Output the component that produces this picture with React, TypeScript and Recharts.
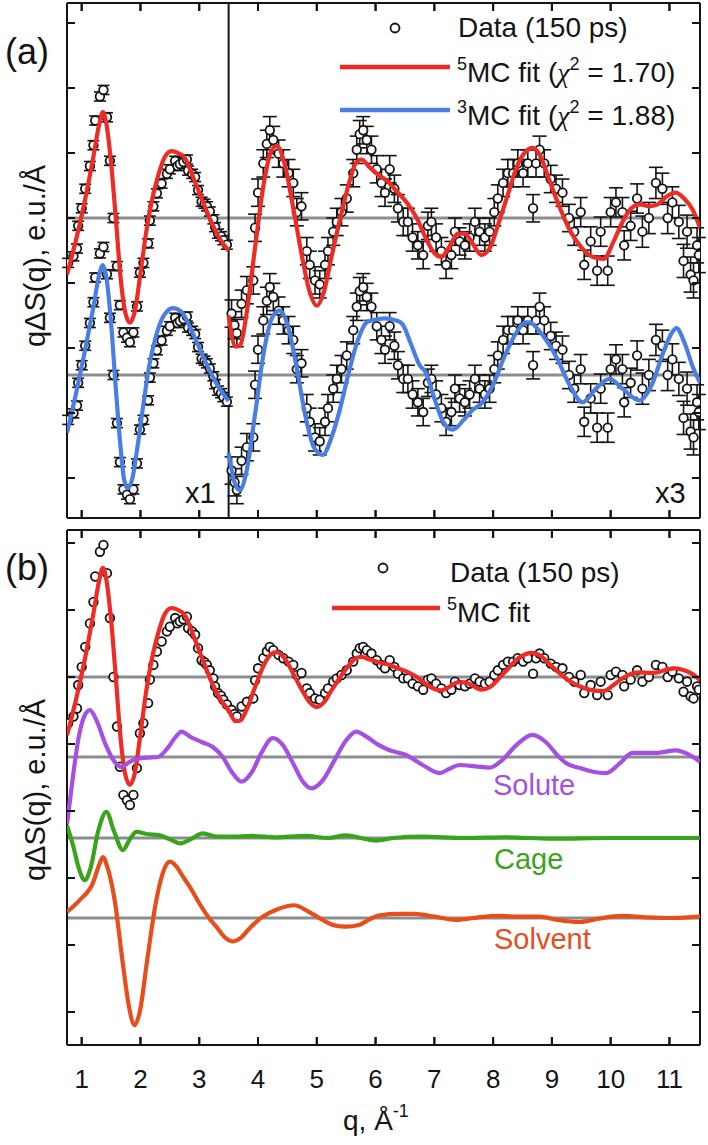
import React from 'react';
import { ComposedChart, Line, Scatter, XAxis, YAxis, ReferenceLine, ErrorBar } from 'recharts';

// ---------- axes ----------
const Q_TICKS = [1, 2, 3, 4, 5, 6, 7, 8, 9, 10, 11];
const Q_DOMAIN: [number, number] = [0.75, 11.52];
const BREAK_Q = 3.5;
const RIGHT_SCALE = 3;

const A_TICKS = [3, 2, 1, 0, -1, -2, -3, -4];
const A_DOMAIN: [number, number] = [-4.615, 3.308];
const A_OFFSET_UPPER = 0;
const A_OFFSET_LOWER = -2.415;

const B_TICKS = [2, 1, 0, -1, -2, -3, -4, -5];
const B_DOMAIN: [number, number] = [-5.493, 2.194];
const B_OFFSET_DATA = 0;
const B_OFFSET_SOLUTE = -1.194;
const B_OFFSET_CAGE = -2.403;
const B_OFFSET_SOLVENT = -3.597;

// ---------- data (150 ps) ----------
const dataLeftQ = [
  0.77, 0.86, 0.92, 0.94, 1.0, 1.06, 1.14, 1.2, 1.23, 1.31,
  1.37, 1.43, 1.48, 1.54, 1.6, 1.65, 1.71, 1.77, 1.82, 1.88,
  1.94, 1.99, 2.05, 2.13, 2.16, 2.22, 2.28, 2.36, 2.45, 2.5,
  2.59, 2.63, 2.67, 2.73, 2.79, 2.81, 2.88, 2.93, 2.98, 3.04,
  3.09, 3.13, 3.18, 3.24, 3.27, 3.32, 3.37, 3.41, 3.47,
];
const dataLeftV = [
  -0.69, -0.59, -0.47, -0.12, 0.15, 0.45, 0.8, 1.12, 1.5, 1.87,
  1.97, 1.55, 0.88, 0.0, -0.74, -1.34, -1.76, -1.84, -1.91, -1.76,
  -1.36, -0.84, -0.69, -0.39, -0.04, 0.18, 0.38, 0.53, 0.68, 0.75,
  0.88, 0.8, 0.83, 0.86, 0.9, 0.73, 0.68, 0.63, 0.43, 0.25,
  0.22, 0.18, 0.1, -0.02, -0.14, -0.24, -0.28, -0.34, -0.41,
];
const dataLeftErr = [
  0.07, 0.07, 0.07, 0.07, 0.07, 0.07, 0.07, 0.07, 0.07, 0.07,
  0.07, 0.07, 0.07, 0.07, 0.07, 0.07, 0.07, 0.07, 0.07, 0.07,
  0.07, 0.07, 0.07, 0.07, 0.07, 0.07, 0.07, 0.07, 0.07, 0.07,
  0.07, 0.07, 0.07, 0.07, 0.07, 0.07, 0.07, 0.07, 0.07, 0.07,
  0.07, 0.07, 0.07, 0.07, 0.07, 0.07, 0.07, 0.07, 0.07,
];
const dataRightQ = [
  3.55, 3.6, 3.64, 3.72, 3.81, 3.92, 3.95, 4.0, 4.09, 4.15,
  4.2, 4.26, 4.35, 4.43, 4.52, 4.6, 4.66, 4.74, 4.83, 4.88,
  4.97, 5.05, 5.14, 5.19, 5.28, 5.34, 5.42, 5.51, 5.62, 5.68,
  5.73, 5.79, 5.85, 5.93, 6.02, 6.1, 6.16, 6.24, 6.32, 6.38,
  6.47, 6.55, 6.63, 6.72, 6.81, 6.89, 6.95, 7.03, 7.12, 7.2,
  7.29, 7.35, 7.43, 7.52, 7.6, 7.69, 7.77, 7.86, 7.94, 8.02,
  8.08, 8.17, 8.25, 8.34, 8.42, 8.51, 8.59, 8.68, 8.73, 8.79,
  8.87, 8.98, 9.07, 9.18, 9.29, 9.38, 9.49, 9.55, 9.66, 9.77,
  9.83, 9.95, 10.0, 10.09, 10.2, 10.23, 10.34, 10.45, 10.54, 10.65,
  10.77, 10.88, 10.97, 11.05, 11.16, 11.24, 11.3, 11.36, 11.41, 11.47,
  11.5,
];
const dataRightV = [
  -0.49, -0.55, -0.59, -0.44, -0.37, -0.32, -0.05, 0.13, 0.28, 0.38,
  0.45, 0.4, 0.33, 0.28, 0.23, 0.18, 0.03, 0.06, -0.17, -0.24,
  -0.32, -0.34, -0.24, -0.17, -0.07, -0.02, 0.03, 0.1, 0.23, 0.35,
  0.43, 0.45, 0.4, 0.35, 0.25, 0.18, 0.13, 0.25, 0.15, 0.05,
  -0.02, -0.02, -0.1, -0.14, -0.19, -0.04, -0.02, -0.1, -0.17, -0.24,
  -0.19, -0.07, -0.12, -0.14, -0.1, -0.02, -0.07, -0.1, -0.07, 0.03,
  0.1, 0.18, 0.23, 0.23, 0.28, 0.23, 0.28, 0.05, 0.28, 0.35,
  0.28, 0.2, 0.15, 0.13, 0.0, -0.07, 0.03, -0.24, -0.12, -0.27,
  -0.07, -0.27, 0.03, 0.08, 0.03, -0.14, -0.04, 0.1, -0.07, 0.0,
  0.18, 0.15, 0.0, 0.08, -0.02, -0.22, -0.07, -0.29, -0.32, -0.14,
  -0.19,
];
const dataRightErr = [
  0.07, 0.07, 0.07, 0.07, 0.07, 0.07, 0.07, 0.07, 0.07, 0.07,
  0.07, 0.07, 0.07, 0.07, 0.07, 0.07, 0.07, 0.07, 0.07, 0.07,
  0.07, 0.07, 0.07, 0.07, 0.07, 0.07, 0.07, 0.07, 0.07, 0.07,
  0.07, 0.07, 0.07, 0.07, 0.07, 0.07, 0.07, 0.07, 0.07, 0.07,
  0.07, 0.07, 0.07, 0.07, 0.07, 0.07, 0.07, 0.07, 0.07, 0.07,
  0.07, 0.07, 0.07, 0.07, 0.07, 0.07, 0.07, 0.07, 0.07, 0.07,
  0.07, 0.07, 0.07, 0.07, 0.07, 0.07, 0.07, 0.07, 0.07, 0.07,
  0.07, 0.07, 0.07, 0.07, 0.07, 0.07, 0.075, 0.075, 0.075, 0.075,
  0.075, 0.075, 0.075, 0.075, 0.075, 0.075, 0.075, 0.075, 0.08, 0.08,
  0.08, 0.08, 0.08, 0.08, 0.085, 0.085, 0.085, 0.09, 0.09, 0.09,
  0.09,
];

// ---------- fits and components ----------
const fit5Q = [
  0.75, 0.9, 1.05, 1.2, 1.3, 1.36, 1.42, 1.5, 1.58, 1.66, 1.74, 1.82, 1.9, 2.0, 2.1, 2.19, 2.3, 2.42, 2.53, 2.64,
  2.75, 2.9, 3.04, 3.2, 3.35, 3.5, 3.62, 3.7, 3.8, 3.95, 4.1, 4.22, 4.32, 4.45, 4.6, 4.75, 4.88, 5.0, 5.12, 5.25,
  5.4, 5.55, 5.66, 5.76, 5.9, 6.05, 6.2, 6.35, 6.53, 6.7, 6.85, 7.0, 7.12, 7.25, 7.4, 7.52, 7.65, 7.8, 7.95, 8.1,
  8.25, 8.4, 8.55, 8.67, 8.8, 8.95, 9.1, 9.3, 9.5, 9.7, 9.88, 10.05, 10.2, 10.35, 10.5, 10.65, 10.8, 10.95, 11.1, 11.25,
  11.4, 11.52,
];
const fit5V = [
  -0.87, -0.35, 0.25, 0.95, 1.45, 1.63, 1.45, 0.85, 0.0, -0.9, -1.45, -1.61, -1.45, -0.85, -0.2, 0.25, 0.65, 0.95, 1.03, 1.0,
  0.93, 0.62, 0.3, -0.05, -0.32, -0.5, -0.66, -0.65, -0.5, -0.15, 0.18, 0.34, 0.37, 0.28, 0.05, -0.2, -0.38, -0.45, -0.38, -0.2,
  0.0, 0.18, 0.28, 0.3, 0.26, 0.22, 0.19, 0.14, 0.08, 0.0, -0.1, -0.18, -0.2, -0.15, -0.08, -0.08, -0.13, -0.19, -0.15, -0.02,
  0.12, 0.26, 0.34, 0.36, 0.32, 0.2, 0.08, -0.06, -0.15, -0.2, -0.21, -0.12, -0.02, 0.05, 0.07, 0.06, 0.07, 0.11, 0.13, 0.1,
  0.04, -0.05,
];
const fit3Q = [
  0.75, 0.9, 1.05, 1.2, 1.3, 1.36, 1.42, 1.5, 1.58, 1.66, 1.72, 1.78, 1.86, 1.95, 2.05, 2.15, 2.25, 2.35, 2.45, 2.55,
  2.7, 2.85, 3.0, 3.15, 3.3, 3.5, 3.6, 3.69, 3.8, 3.95, 4.1, 4.25, 4.37, 4.5, 4.65, 4.8, 4.95, 5.1, 5.25, 5.39,
  5.55, 5.7, 5.85, 5.95, 6.15, 6.35, 6.46, 6.6, 6.75, 6.86, 7.0, 7.15, 7.31, 7.5, 7.65, 7.82, 8.0, 8.2, 8.4, 8.55,
  8.62, 8.8, 9.08, 9.3, 9.52, 9.75, 9.98, 10.2, 10.49, 10.7, 10.9, 11.05, 11.12, 11.25, 11.4, 11.52,
];
const fit3V = [
  -0.89, -0.3, 0.35, 1.05, 1.55, 1.69, 1.5, 0.8, -0.2, -1.1, -1.6, -1.74, -1.6, -1.1, -0.45, 0.15, 0.55, 0.83, 0.98, 1.03,
  0.97, 0.72, 0.42, 0.12, -0.14, -0.4, -0.55, -0.59, -0.5, -0.2, 0.12, 0.3, 0.33, 0.26, 0.05, -0.2, -0.37, -0.41, -0.32, -0.18,
  0.02, 0.18, 0.27, 0.28, 0.29, 0.28, 0.26, 0.16, 0.05, 0.01, -0.12, -0.24, -0.28, -0.23, -0.18, -0.14, -0.05, 0.1, 0.22, 0.27,
  0.27, 0.22, 0.09, -0.05, -0.14, -0.07, -0.02, -0.07, -0.13, -0.05, 0.12, 0.22, 0.24, 0.17, 0.04, -0.04,
];
const soluteQ = [
  0.75, 0.85, 0.95, 1.05, 1.14, 1.25, 1.4, 1.55, 1.68, 1.8, 1.94, 2.1, 2.3, 2.45, 2.6, 2.7, 2.85, 3.05, 3.23, 3.4,
  3.55, 3.72, 3.9, 4.05, 4.25, 4.42, 4.6, 4.75, 4.91, 5.1, 5.3, 5.5, 5.67, 5.85, 6.05, 6.24, 6.52, 6.8, 7.09, 7.25,
  7.43, 7.7, 7.94, 8.15, 8.4, 8.67, 8.9, 9.1, 9.24, 9.5, 9.7, 9.92, 10.15, 10.37, 10.77, 11.11, 11.3, 11.52,
];
const soluteV = [
  -1.0, -0.3, 0.3, 0.62, 0.7, 0.55, 0.2, -0.06, -0.15, -0.08, -0.03, -0.01, 0.0, 0.12, 0.3, 0.38, 0.3, 0.22, 0.15, 0.0,
  -0.22, -0.37, -0.22, 0.05, 0.28, 0.18, -0.1, -0.35, -0.47, -0.35, -0.05, 0.25, 0.38, 0.3, 0.18, 0.1, 0.03, -0.12, -0.24, -0.18,
  -0.12, -0.14, -0.16, -0.05, 0.18, 0.33, 0.22, 0.02, -0.09, -0.17, -0.22, -0.24, -0.1, 0.06, 0.06, 0.1, 0.05, -0.07,
];
const cageQ = [
  0.75, 0.85, 0.95, 1.05, 1.15, 1.28, 1.42, 1.55, 1.7, 1.82, 1.93, 2.1, 2.33, 2.5, 2.67, 2.85, 3.06, 3.3, 3.57, 3.9,
  4.3, 4.8, 5.2, 5.5, 5.75, 6.01, 6.3, 6.8, 7.5, 8.2, 9.0, 10.0, 11.0, 11.52,
];
const cageV = [
  0.19, -0.1, -0.45, -0.63, -0.45, 0.1, 0.39, 0.1, -0.18, -0.02, 0.09, 0.06, 0.04, -0.02, -0.08, -0.02, 0.07, 0.02, 0.02, 0.03,
  0.01, 0.03, 0.0, 0.04, 0.0, -0.04, 0.0, 0.02, 0.0, 0.01, -0.01, 0.0, 0.0, 0.0,
];
const solventQ = [
  0.75, 0.97, 1.19, 1.3, 1.36, 1.44, 1.56, 1.7, 1.8, 1.9, 2.0, 2.1, 2.27, 2.4, 2.5, 2.62, 2.72, 2.85, 3.0, 3.15,
  3.29, 3.45, 3.57, 3.7, 3.85, 4.08, 4.3, 4.62, 4.85, 5.1, 5.3, 5.5, 5.73, 5.9, 6.07, 6.4, 6.67, 7.0, 7.37, 7.75,
  8.11, 8.45, 8.79, 9.1, 9.47, 9.8, 10.2, 10.6, 11.05, 11.52,
];
const solventV = [
  0.09, 0.27, 0.52, 0.8, 0.91, 0.75, 0.27, -0.68, -1.3, -1.6, -1.35, -0.72, 0.27, 0.72, 0.84, 0.76, 0.62, 0.45, 0.22, 0.02,
  -0.13, -0.3, -0.35, -0.3, -0.16, 0.02, 0.12, 0.19, 0.1, -0.03, -0.11, -0.13, -0.1, -0.02, 0.04, 0.06, 0.06, 0.02, -0.03, 0.01,
  0.03, 0.02, 0.02, -0.03, -0.06, -0.01, 0.03, 0.01, 0.0, 0.02,
];

// ---------- styles / layout ----------
const RED = '#ee2b25';
const BLUE = '#4a7ee3';
const PURPLE = '#a64fe4';
const GREEN = '#38a41c';
const ORANGE = '#e84e1c';
const GREY = '#8b8e90';
const INK = '#141414';
const FONT = '"Liberation Sans", Arial, Helvetica, sans-serif';
const TICK_LEN = 8;
const TICK_W = 2;

const PLOT_LEFT = 67;
const PLOT_W = 633;
const PLOT_H = 515;
const A_TOP = 3;
const B_TOP = 530;

type Pt = { q: number; y: number; e?: number };

function build(qs: number[], vs: number[], offset: number, scale: number, errs?: number[], lo = -Infinity, hi = Infinity): Pt[] {
  const out: Pt[] = [];
  qs.forEach((q, i) => {
    if (q < lo || q > hi) return;
    out.push({ q, y: vs[i] * scale + offset, e: errs ? errs[i] * scale : undefined });
  });
  return out;
}

const Circ = (p: any) =>
  p.cx == null ? <g /> : <circle cx={p.cx} cy={p.cy} r={4.3} fill="#fff" stroke={INK} strokeWidth={1.8} />;

function inwardTick(dx: number, dy: number, withLabel = false) {
  return (p: any) => (
    <g>
      <line x1={p.x} y1={p.y} x2={p.x + dx} y2={p.y + dy} stroke={INK} strokeWidth={TICK_W} />
      {withLabel ? (
        <text x={p.x} y={p.y + 43} textAnchor="middle" fontSize={26} fill={INK} fontFamily={FONT}>
          {p.payload.value}
        </text>
      ) : null}
    </g>
  );
}

const axisLine = { stroke: INK, strokeWidth: 2 };

function Frame(yDomain: [number, number], yTicks: number[], bottomLabels: boolean) {
  const common = {
    type: 'number' as const,
    allowDataOverflow: true,
    interval: 0 as const,
    stroke: INK,
    tickSize: 0,
    tickMargin: 0,
    tickLine: false,
    axisLine,
  };
  return [
    <XAxis
      key="xb"
      xAxisId="b"
      dataKey="q"
      orientation="bottom"
      domain={Q_DOMAIN}
      ticks={Q_TICKS}
      height={bottomLabels ? 100 : 1}
      tick={inwardTick(0, -TICK_LEN, bottomLabels)}
      {...common}
    />,
    <XAxis
      key="xt"
      xAxisId="t"
      dataKey="q"
      orientation="top"
      domain={Q_DOMAIN}
      ticks={Q_TICKS}
      height={1}
      tick={inwardTick(0, TICK_LEN)}
      {...common}
    />,
    <YAxis
      key="yl"
      yAxisId="l"
      dataKey="y"
      orientation="left"
      domain={yDomain}
      ticks={yTicks}
      width={1}
      tick={inwardTick(TICK_LEN, 0)}
      {...common}
    />,
    <YAxis
      key="yr"
      yAxisId="r"
      dataKey="y"
      orientation="right"
      domain={yDomain}
      ticks={yTicks}
      width={1}
      tick={inwardTick(-TICK_LEN, 0)}
      {...common}
    />,
  ];
}

function curve(key: string, data: Pt[], color: string, w = 4.2) {
  return (
    <Line
      key={key}
      xAxisId="b"
      yAxisId="l"
      data={data}
      dataKey="y"
      type="monotone"
      stroke={color}
      strokeWidth={w}
      dot={false}
      activeDot={false}
      isAnimationActive={false}
      zIndex={700}
    />
  );
}

function points(key: string, data: Pt[], withErr: boolean, capW: number) {
  return (
    <Scatter
      key={key}
      xAxisId="b"
      yAxisId="l"
      data={data}
      dataKey="y"
      shape={Circ}
      isAnimationActive={false}
      zIndex={500}
    >
      {withErr ? (
        <ErrorBar dataKey="e" direction="y" width={capW} stroke={INK} strokeWidth={1.6} isAnimationActive={false} />
      ) : null}
    </Scatter>
  );
}

function baseline(key: string, y: number) {
  return (
    <ReferenceLine key={key} xAxisId="b" yAxisId="l" y={y} stroke={GREY} strokeWidth={3} zIndex={100} />
  );
}

function ChartA() {
  const upLeft = build(dataLeftQ, dataLeftV, A_OFFSET_UPPER, 1, dataLeftErr);
  const upRight = build(dataRightQ, dataRightV, A_OFFSET_UPPER, RIGHT_SCALE, dataRightErr);
  const loLeft = build(dataLeftQ, dataLeftV, A_OFFSET_LOWER, 1, dataLeftErr);
  const loRight = build(dataRightQ, dataRightV, A_OFFSET_LOWER, RIGHT_SCALE, dataRightErr);
  const f5L = build(fit5Q, fit5V, A_OFFSET_UPPER, 1, undefined, -Infinity, BREAK_Q);
  const f5R = build(fit5Q, fit5V, A_OFFSET_UPPER, RIGHT_SCALE, undefined, BREAK_Q, Infinity);
  const f3L = build(fit3Q, fit3V, A_OFFSET_LOWER, 1, undefined, -Infinity, BREAK_Q);
  const f3R = build(fit3Q, fit3V, A_OFFSET_LOWER, RIGHT_SCALE, undefined, BREAK_Q, Infinity);
  return (
    <ComposedChart width={708} height={525} margin={{ top: 2, right: 7, bottom: 6, left: 66 }}>
      {Frame(A_DOMAIN, A_TICKS, false)}
      {baseline('g0', A_OFFSET_UPPER)}
      {baseline('g1', A_OFFSET_LOWER)}
      <ReferenceLine xAxisId="b" yAxisId="l" x={BREAK_Q} stroke={INK} strokeWidth={2} zIndex={100} />
      {points('d1', upLeft, true, 6)}
      {points('d2', upRight, true, 7)}
      {points('d3', loLeft, true, 6)}
      {points('d4', loRight, true, 7)}
      {curve('f5l', f5L, RED)}
      {curve('f5r', f5R, RED)}
      {curve('f3l', f3L, BLUE)}
      {curve('f3r', f3R, BLUE)}
    </ComposedChart>
  );
}

function ChartB() {
  const d = build([...dataLeftQ, ...dataRightQ], [...dataLeftV, ...dataRightV], B_OFFSET_DATA, 1);
  return (
    <ComposedChart width={708} height={620} margin={{ top: 4, right: 7, bottom: 0, left: 66 }}>
      {Frame(B_DOMAIN, B_TICKS, true)}
      {baseline('b0', B_OFFSET_DATA)}
      {baseline('b1', B_OFFSET_SOLUTE)}
      {baseline('b2', B_OFFSET_CAGE)}
      {baseline('b3', B_OFFSET_SOLVENT)}
      {points('bd', d, false, 0)}
      {curve('bf5', build(fit5Q, fit5V, B_OFFSET_DATA, 1), RED)}
      {curve('bsu', build(soluteQ, soluteV, B_OFFSET_SOLUTE, 1), PURPLE)}
      {curve('bca', build(cageQ, cageV, B_OFFSET_CAGE, 1), GREEN)}
      {curve('bso', build(solventQ, solventV, B_OFFSET_SOLVENT, 1), ORANGE)}
    </ComposedChart>
  );
}

// frame tick marks (top, bottom, right edges) for one panel, from the tick lists and the plot box
function FrameTicks({ top, yDomain, yTicks }: { top: number; yDomain: [number, number]; yTicks: number[] }) {
  const qx = (q: number) => PLOT_LEFT + ((q - Q_DOMAIN[0]) / (Q_DOMAIN[1] - Q_DOMAIN[0])) * PLOT_W;
  const vy = (v: number) => top + ((yDomain[1] - v) / (yDomain[1] - yDomain[0])) * PLOT_H;
  const right = PLOT_LEFT + PLOT_W;
  const bottom = top + PLOT_H;
  return (
    <g stroke={INK} strokeWidth={TICK_W}>
      {Q_TICKS.map((q) => (
        <line key={`t${q}`} x1={qx(q)} x2={qx(q)} y1={top} y2={top + TICK_LEN} />
      ))}
      {Q_TICKS.map((q) => (
        <line key={`b${q}`} x1={qx(q)} x2={qx(q)} y1={bottom} y2={bottom - TICK_LEN} />
      ))}
      {yTicks.map((t) => (
        <line key={`r${t}`} x1={right} x2={right - TICK_LEN} y1={vy(t)} y2={vy(t)} />
      ))}
      {yTicks.map((t) => (
        <line key={`l${t}`} x1={PLOT_LEFT} x2={PLOT_LEFT + TICK_LEN} y1={vy(t)} y2={vy(t)} />
      ))}
    </g>
  );
}

const SUP_SIZE = 18;
const SUP_RISE = 12;

function Overlay() {
  const chiFont = '"Liberation Serif", "DejaVu Serif", serif';
  const yLabel = 'qΔS(q), e.u./Å';
  return (
    <svg width={708} height={1145} style={{ position: 'absolute', left: 0, top: 0, pointerEvents: 'none' }}>
      <FrameTicks top={A_TOP} yDomain={A_DOMAIN} yTicks={A_TICKS} />
      <FrameTicks top={B_TOP} yDomain={B_DOMAIN} yTicks={B_TICKS} />
      <g fontFamily={FONT} fill={INK}>
        {/* panel labels */}
        <text x={5} y={64} fontSize={36}>(a)</text>
        <text x={5} y={580} fontSize={36}>(b)</text>
        {/* y labels */}
        <text transform="translate(45,256) rotate(-90)" textAnchor="middle" fontSize={29}>{yLabel}</text>
        <text transform="translate(45,790) rotate(-90)" textAnchor="middle" fontSize={29}>{yLabel}</text>
        {/* x label */}
        <text x={343} y={1130} fontSize={28}>
          q, Å<tspan fontSize={SUP_SIZE} dy={-13}>-1</tspan>
        </text>
        {/* scale markers */}
        <text x={185} y={503} fontSize={29}>x1</text>
        <text x={655} y={503} fontSize={29}>x3</text>
        {/* legend (a) */}
        <circle cx={395} cy={28} r={4.5} fill="#fff" stroke={INK} strokeWidth={1.8} />
        <text x={458} y={37} fontSize={28}>Data (150 ps)</text>
        <line x1={340} x2={450} y1={67} y2={67} stroke={RED} strokeWidth={4.5} />
        <text x={457} y={82} fontSize={28}>
          <tspan fontSize={SUP_SIZE} dy={-SUP_RISE}>5</tspan>
          <tspan dy={SUP_RISE}>MC fit (</tspan>
          <tspan fontFamily={chiFont} fontStyle="italic">χ</tspan>
          <tspan fontSize={SUP_SIZE} dy={-SUP_RISE}>2</tspan>
          <tspan dy={SUP_RISE}> = 1.70)</tspan>
        </text>
        <line x1={340} x2={450} y1={110} y2={110} stroke={BLUE} strokeWidth={4.5} />
        <text x={457} y={125} fontSize={28}>
          <tspan fontSize={SUP_SIZE} dy={-SUP_RISE}>3</tspan>
          <tspan dy={SUP_RISE}>MC fit (</tspan>
          <tspan fontFamily={chiFont} fontStyle="italic">χ</tspan>
          <tspan fontSize={SUP_SIZE} dy={-SUP_RISE}>2</tspan>
          <tspan dy={SUP_RISE}> = 1.88)</tspan>
        </text>
        {/* legend (b) */}
        <circle cx={383} cy={568} r={4.5} fill="#fff" stroke={INK} strokeWidth={1.8} />
        <text x={450} y={582} fontSize={28}>Data (150 ps)</text>
        <line x1={332} x2={440} y1={608} y2={608} stroke={RED} strokeWidth={4.5} />
        <text x={447} y={622} fontSize={28}>
          <tspan fontSize={SUP_SIZE} dy={-SUP_RISE}>5</tspan>
          <tspan dy={SUP_RISE}>MC fit</tspan>
        </text>
        {/* component labels */}
        <text x={493} y={795} fontSize={29} fill={PURPLE}>Solute</text>
        <text x={494} y={869} fontSize={29} fill={GREEN}>Cage</text>
        <text x={494} y={949} fontSize={29} fill={ORANGE}>Solvent</text>
      </g>
    </svg>
  );
}

export default function App() {
  return (
    <div style={{ position: 'absolute', left: 0, top: 0, width: 708, height: 1145, background: '#fff' }}>
      <div style={{ position: 'absolute', left: 0, top: 0 }}>
        <ChartA />
      </div>
      <div style={{ position: 'absolute', left: 0, top: 525 }}>
        <ChartB />
      </div>
      <Overlay />
    </div>
  );
}
